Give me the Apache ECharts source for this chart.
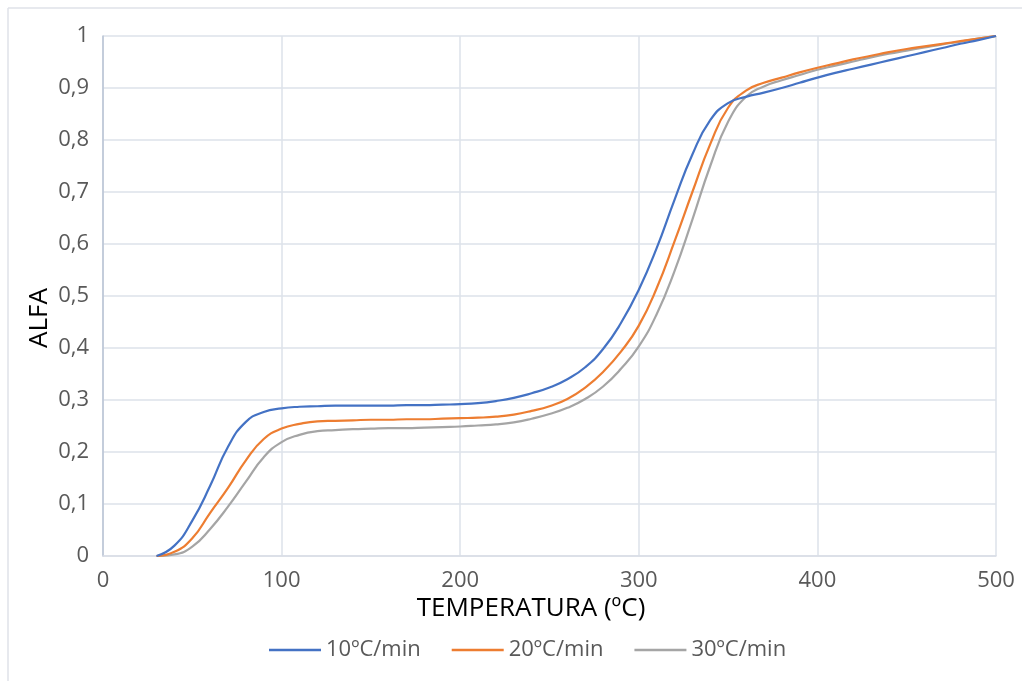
<!DOCTYPE html>
<html>
<head>
<meta charset="utf-8">
<title>ALFA vs TEMPERATURA</title>
<script src="https://cdn.jsdelivr.net/npm/echarts@6/dist/echarts.min.js"></script>
<style>
  html, body { margin: 0; padding: 0; background: #ffffff; }
  #chart { width: 1022px; height: 681px; }
</style>
</head>
<body>
<div id="chart"></div>
<script>
// Temperature grid (ºC), every 10 degrees, shared by the three heating rates
const temperatures = [30, 40, 50, 60, 70, 80, 90, 100, 110, 120, 130, 140, 150, 160, 170, 180, 190, 200,
  210, 220, 230, 240, 250, 260, 270, 280, 290, 300, 310, 320, 330, 340, 350, 360, 370, 380, 390, 400,
  410, 420, 430, 440, 450, 460, 470, 480, 490, 500];

// Conversion degree (alfa) for each heating rate
const alfa10 = [0, 0.02, 0.068, 0.135, 0.21, 0.258, 0.277, 0.284, 0.287, 0.288, 0.289, 0.289, 0.289, 0.289, 0.29, 0.29, 0.291, 0.292,
  0.294, 0.298, 0.304, 0.313, 0.324, 0.34, 0.363, 0.398, 0.448, 0.512, 0.592, 0.685, 0.772, 0.838, 0.871, 0.883, 0.891, 0.9, 0.91, 0.92,
  0.929, 0.937, 0.945, 0.953, 0.961, 0.969, 0.977, 0.985, 0.992, 1.0];

const alfa20 = [0, 0.008, 0.034, 0.083, 0.131, 0.184, 0.225, 0.245, 0.254, 0.259, 0.26, 0.261, 0.262, 0.262, 0.263, 0.263, 0.264, 0.265,
  0.266, 0.268, 0.272, 0.279, 0.288, 0.302, 0.324, 0.354, 0.393, 0.443, 0.515, 0.605, 0.7, 0.792, 0.862, 0.895, 0.91, 0.92, 0.93, 0.939,
  0.947, 0.955, 0.962, 0.969, 0.975, 0.98, 0.985, 0.99, 0.995, 1.0];

const alfa30 = [0, 0.003, 0.018, 0.052, 0.095, 0.143, 0.19, 0.219, 0.233, 0.24, 0.242, 0.244, 0.245, 0.246, 0.246, 0.247, 0.248, 0.249,
  0.251, 0.253, 0.257, 0.264, 0.273, 0.285, 0.302, 0.326, 0.36, 0.403, 0.465, 0.548, 0.647, 0.75, 0.835, 0.883, 0.903, 0.915, 0.925, 0.935,
  0.943, 0.951, 0.959, 0.966, 0.972, 0.978, 0.984, 0.989, 0.995, 1.0];

const seriesNames = ['10ºC/min', '20ºC/min', '30ºC/min'];
const seriesColors = ['#4472C4', '#ED7D31', '#A5A5A5'];
const seriesValues = [alfa10, alfa20, alfa30];

const FONT = '"Open Sans", "Noto Sans", sans-serif';
const TEXT_COLOR = '#595959';

const chart = echarts.init(document.getElementById('chart'), null, { renderer: 'canvas' });

const pairs = vals => temperatures.map((t, i) => [t, vals[i]]);

chart.setOption({
  animation: false,
  backgroundColor: '#ffffff',
  grid: { left: 103, right: 26, top: 36, bottom: 125, containLabel: false },
  xAxis: {
    type: 'value',
    min: 0, max: 500, interval: 100,
    axisLine: { show: true, lineStyle: { color: '#d9dde6', width: 1.5 } },
    axisTick: { show: false },
    splitLine: { show: true, lineStyle: { color: '#dde2ea', width: 1.5 } },
    axisLabel: { color: TEXT_COLOR, fontFamily: FONT, fontSize: 22, margin: 14 }
  },
  yAxis: {
    type: 'value',
    min: 0, max: 1, interval: 0.1,
    axisLine: { show: true, lineStyle: { color: '#b9c3d5', width: 1.5 } },
    axisTick: { show: false },
    splitLine: { show: true, lineStyle: { color: '#dde2ea', width: 1.5 } },
    axisLabel: {
      color: TEXT_COLOR, fontFamily: FONT, fontSize: 22, margin: 14,
      formatter: v => String(Math.round(v * 10) / 10).replace('.', ',')
    }
  },
  legend: {
    data: seriesNames,
    left: 264, top: 634,
    icon: 'rect',
    itemWidth: 52, itemHeight: 2.5,
    itemGap: 31,
    textStyle: { color: TEXT_COLOR, fontFamily: FONT, fontSize: 22 }
  },
  graphic: [
    { type: 'line', shape: { x1: 8, y1: 8, x2: 1022, y2: 8 }, style: { stroke: '#dfe2e8', lineWidth: 1.5 } },
    { type: 'line', shape: { x1: 8, y1: 8, x2: 8, y2: 681 }, style: { stroke: '#dfe2e8', lineWidth: 1.5 } },
    {
      type: 'text', x: 531, y: 609,
      style: { text: 'TEMPERATURA (ºC)', fill: '#000000', font: '26px ' + FONT, textAlign: 'center', textVerticalAlign: 'middle' }
    },
    {
      type: 'text', rotation: Math.PI / 2, x: 40, y: 318,
      style: { text: 'ALFA', fill: '#000000', font: '26px ' + FONT, textAlign: 'center', textVerticalAlign: 'middle' }
    }
  ],
  series: seriesNames.map((name, i) => ({
    name,
    type: 'line',
    data: pairs(seriesValues[i]),
    showSymbol: false,
    smooth: 0.5,
    lineStyle: { color: seriesColors[i], width: 2.2 },
    itemStyle: { color: seriesColors[i] },
    z: 3 - i
  }))
});
</script>
</body>
</html>
